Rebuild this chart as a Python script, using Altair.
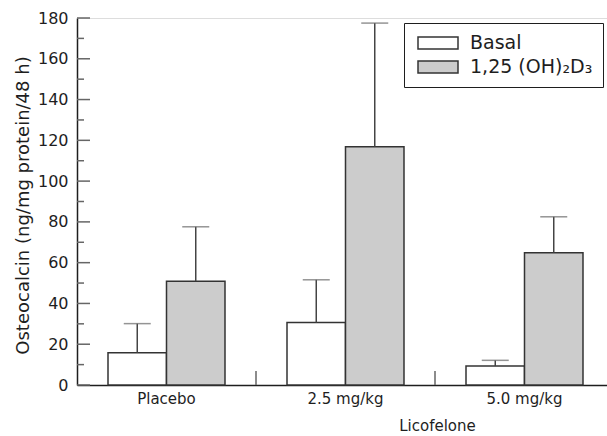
import altair as alt
import pandas as pd

cats = ["Placebo", "2.5 mg/kg", "5.0 mg/kg"]
series = ["Basal", "1,25 (OH)₂D₃"]
basal_mean = [15.8, 30.6, 9.3]
basal_upper = [30.1, 51.6, 12.1]
d3_mean = [50.9, 116.9, 64.9]
d3_upper = [77.6, 177.5, 82.5]
major_ticks = [0, 20, 40, 60, 80, 100, 120, 140, 160, 180]
minor_ticks = [10, 30, 50, 70, 90, 110, 130, 150, 170]
separators = ["2.5 mg/kg", "5.0 mg/kg"]

rows = []
for i, c in enumerate(cats):
    rows.append({"cat": c, "series": series[0], "mean": basal_mean[i], "upper": basal_upper[i]})
    rows.append({"cat": c, "series": series[1], "mean": d3_mean[i], "upper": d3_upper[i]})
df = pd.DataFrame(rows)

FONT = "DejaVu Sans"
DARK = "#1e1e1e"

xscale = alt.Scale(domain=cats, range=[0, 537], paddingInner=0, paddingOuter=0)
yscale = alt.Scale(domain=[0, 180])
offscale = alt.Scale(domain=series, paddingInner=0, paddingOuter=0.53)

xaxis = alt.Axis(title="Licofelone", labelAngle=0, ticks=False, tickSize=0, grid=False,
                 labelPadding=6, labelFontSize=15, labelFont=FONT, labelColor=DARK,
                 titleFontSize=15, titleFont=FONT, titleFontWeight="normal", titleColor=DARK,
                 titleX=360, titleY=48, titleBaseline="bottom", titleAlign="center",
                 domainColor=DARK, domainWidth=1.5)
yaxis = alt.Axis(title="Osteocalcin (ng/mg protein/48 h)", values=major_ticks,
                 ticks=False, tickSize=0, labelPadding=9, grid=False,
                 labelFontSize=16, labelFont=FONT, labelColor=DARK,
                 titleFontSize=18, titleFont=FONT, titleFontWeight="normal", titleColor=DARK,
                 titleX=-54, titleY=187, titleBaseline="middle", titleAlign="center",
                 domainColor=DARK, domainWidth=1.5)

def X(**kw):
    return alt.X("cat:N", sort=cats, scale=xscale, axis=xaxis, title="Licofelone", **kw)

def Y(field):
    return alt.Y(field, scale=yscale, axis=yaxis, title="Osteocalcin (ng/mg protein/48 h)")

xo = alt.XOffset("series:N", sort=series, scale=offscale)

bars = alt.Chart(df).mark_bar(stroke="#333333", strokeWidth=1.5).encode(
    x=X(),
    xOffset=xo,
    y=Y("mean:Q"),
    fill=alt.Fill("series:N", sort=series,
                  scale=alt.Scale(domain=series, range=["#ffffff", "#cccccc"]),
                  legend=alt.Legend(orient="none", legendX=327, legendY=5, title=None,
                                    symbolType="M-1,-0.3L1,-0.3L1,0.3L-1,0.3Z", symbolSize=1600,
                                    symbolStrokeColor="#333333", symbolStrokeWidth=1.5,
                                    symbolOffset=3, labelOffset=11, labelFontSize=19,
                                    labelFont=FONT, labelColor=DARK, padding=10,
                                    strokeColor=DARK, clipHeight=20, rowPadding=4)),
)

err = alt.Chart(df).mark_rule(color="#444444", strokeWidth=1.5).encode(
    x=X(), xOffset=xo, y=Y("mean:Q"), y2="upper:Q")

caps = alt.Chart(df).mark_tick(color="#666666", thickness=1.5, size=27, orient="horizontal").encode(
    x=X(), xOffset=xo, y=Y("upper:Q"))

maj = alt.Chart(pd.DataFrame({"v": major_ticks})).mark_rule(color="#666666", strokeWidth=1.5).encode(
    y=Y("v:Q"), x=alt.value(0), x2=alt.value(13))
mnr = alt.Chart(pd.DataFrame({"v": minor_ticks})).mark_rule(color="#666666", strokeWidth=1.5).encode(
    y=Y("v:Q"), x=alt.value(0), x2=alt.value(7))

sep = alt.Chart(pd.DataFrame({"cat": separators})).mark_rule(color="#666666", strokeWidth=1.5).encode(
    x=X(bandPosition=0),
    y=alt.value(353), y2=alt.value(367))

chart = alt.layer(bars, err, caps, maj, mnr, sep).properties(
    width=530, height=367,
    autosize=alt.AutoSizeParams(type="none"),
    padding={"left": 77, "top": 18, "right": 0, "bottom": 51},
).configure_view(stroke=None).configure(font=FONT, background="white")

chart.save("out.html", embed_options={"renderer": "svg", "actions": False})
